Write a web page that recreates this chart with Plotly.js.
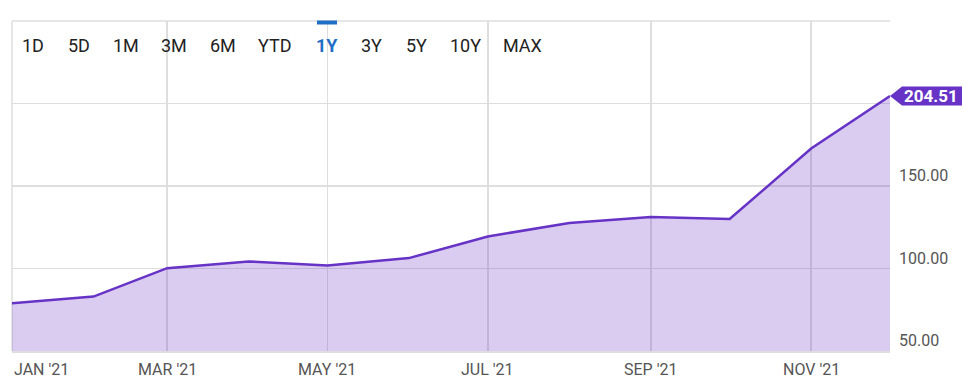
<!DOCTYPE html>
<html>
<head>
<meta charset="utf-8">
<script src="https://cdn.plot.ly/plotly-3.0.1.min.js"></script>
<style>
  html, body { margin: 0; padding: 0; background: #ffffff; }
  #chart { width: 975px; height: 391px; }
</style>
</head>
<body>
<div id="chart"></div>
<script>
// ---- data ----
var months = ['2021-01-01','2021-02-01','2021-03-01','2021-04-01','2021-05-01','2021-06-01',
              '2021-07-01','2021-08-01','2021-09-01','2021-10-01','2021-11-01','2021-12-01'];
var prices = [79.0, 83.0, 100.2, 104.3, 101.8, 106.3, 119.4, 127.6, 131.2, 130.0, 172.7, 204.51];

var xTickDates = ['2021-01-01','2021-03-01','2021-05-01','2021-07-01','2021-09-01','2021-11-01'];
var xTickLabels = ["JAN '21","MAR '21","MAY '21","JUL '21","SEP '21","NOV '21"];

var yTickVals = [50, 100, 150, 200, 250];
var yLabelVals = [50, 100, 150];
var yLabelTexts = ['50.00', '100.00', '150.00'];

var rangeButtons = ['1D','5D','1M','3M','6M','YTD','1Y','3Y','5Y','10Y','MAX'];
var activeButton = '1Y';

// ---- layout helpers (pixel centres of the range buttons, relative to plot left) ----
var buttonCenters = [21, 67, 114, 162, 211, 263, 315, 359, 404, 453, 510];

var lineColor = '#6633c6';
var blue = '#1f6fc5';
var gridColor = '#dedede';

var annotations = [];
rangeButtons.forEach(function (b, i) {
  var active = b === activeButton;
  annotations.push({
    text: active ? '<b>' + b + '</b>' : b,
    xref: 'paper', yref: 'paper', x: 0, y: 1,
    xshift: buttonCenters[i], yshift: -24,
    xanchor: 'center', yanchor: 'middle',
    showarrow: false,
    font: { family: 'Roboto', size: 18, color: active ? blue : '#222222' }
  });
});
xTickDates.forEach(function (d, i) {
  annotations.push({
    text: xTickLabels[i],
    xref: 'x', yref: 'paper', x: d, y: 0,
    yshift: -18,
    xanchor: i === 0 ? 'left' : 'center', yanchor: 'middle',
    showarrow: false,
    font: { family: 'Roboto', size: 16, color: '#555555' }
  });
});
yLabelVals.forEach(function (v, i) {
  annotations.push({
    text: yLabelTexts[i],
    xref: 'paper', yref: 'y', x: 1, y: v,
    xshift: 7, yshift: 10.5,
    xanchor: 'left', yanchor: 'middle',
    showarrow: false,
    font: { family: 'Roboto', size: 16, color: '#555555' }
  });
});
var lastX = months[months.length - 1];
var lastY = prices[prices.length - 1];
annotations.push({
  text: '<b>' + lastY.toFixed(2) + '</b>',
  xref: 'paper', yref: 'y', x: 1, y: lastY,
  xshift: 41, xanchor: 'center', yanchor: 'middle',
  showarrow: false,
  font: { family: 'Roboto', size: 17, color: '#ffffff' }
});

var shapes = [
  {
    type: 'path', layer: 'above',
    xref: 'paper', yref: 'y', xsizemode: 'pixel', ysizemode: 'pixel',
    xanchor: 1, yanchor: lastY,
    path: 'M 0 0 L 12 9.5 L 72 9.5 L 72 -9.5 L 12 -9.5 Z',
    fillcolor: lineColor, line: { width: 0 }
  },
  {
    type: 'rect', layer: 'above',
    xref: 'paper', yref: 'paper', xsizemode: 'pixel', ysizemode: 'pixel',
    xanchor: 0, yanchor: 1,
    x0: 305, x1: 325, y0: 0.5, y1: -3.5,
    fillcolor: blue, line: { width: 0 }
  },
  { type: 'line', xref: 'paper', yref: 'paper', x0: 0, x1: 0, y0: 0, y1: 1,
    line: { color: gridColor, width: 1.5 }, layer: 'below' },
  { type: 'line', xref: 'paper', yref: 'paper', x0: 0, x1: 1, y0: 1, y1: 1,
    line: { color: gridColor, width: 1.5 }, layer: 'below' }
];

var trace = {
  x: months, y: prices,
  type: 'scatter', mode: 'lines',
  line: { color: lineColor, width: 2.5 },
  fill: 'tozeroy',
  fillcolor: 'rgba(106,52,200,0.25)',
  hoverinfo: 'skip'
};

var layout = {
  width: 975, height: 391,
  margin: { l: 12, r: 85, t: 21, b: 40 },
  paper_bgcolor: '#ffffff', plot_bgcolor: '#ffffff',
  showlegend: false,
  font: { family: 'Roboto', color: '#555555' },
  xaxis: {
    type: 'date',
    range: [months[0], lastX],
    tickvals: xTickDates,
    showticklabels: false,
    showgrid: true, gridcolor: gridColor, gridwidth: 1.5,
    zeroline: false,
    showline: true, linecolor: gridColor, linewidth: 1.5,
    ticks: ''
  },
  yaxis: {
    side: 'right',
    range: [50, 250],
    tickvals: yTickVals,
    showticklabels: false,
    showgrid: true, gridcolor: gridColor, gridwidth: 1.5,
    zeroline: false, showline: false,
    ticks: ''
  },
  shapes: shapes,
  annotations: annotations
};

Plotly.newPlot('chart', [trace], layout, { staticPlot: true, displayModeBar: false });
</script>
</body>
</html>
